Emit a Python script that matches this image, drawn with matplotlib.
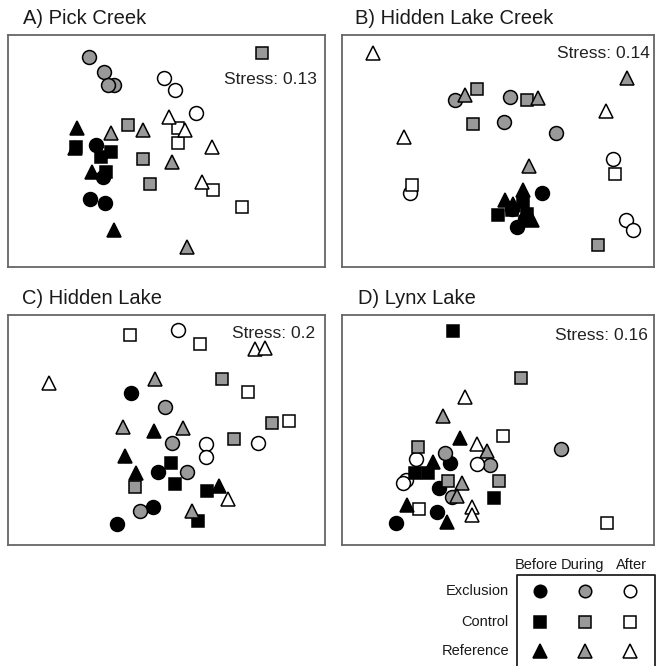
import matplotlib.pyplot as plt

plt.rcParams['font.family'] = ['Liberation Sans', 'DejaVu Sans']

W, H = 656, 666

treatments = ['Exclusion', 'Control', 'Reference']
periods = ['Before', 'During', 'After']
markers = {'Exclusion': 'o', 'Control': 's', 'Reference': '^'}
fills = {'Before': 'black', 'During': '#999999', 'After': 'white'}
msize = {'o': 10, 's': 9, '^': 10.5}

titles = ['A) Pick Creek', 'B) Hidden Lake Creek', 'C) Hidden Lake', 'D) Lynx Lake']
stress = [0.13, 0.14, 0.2, 0.16]

# NMDS scores (axis 1, axis 2 -- axis 2 runs downward here)
pick_creek = {
    ('Exclusion', 'Before'): [(290, 435), (310, 530), (270, 595), (315, 607)],
    ('Control', 'Before'): [(230, 442), (335, 455), (305, 470), (320, 515)],
    ('Reference', 'Before'): [(232, 385), (225, 445), (278, 515), (342, 690)],
    ('Exclusion', 'During'): [(268, 170), (312, 215), (343, 255), (325, 255)],
    ('Control', 'During'): [(785, 160), (385, 375), (430, 475), (450, 550)],
    ('Reference', 'During'): [(335, 400), (430, 390), (515, 485), (562, 740)],
    ('Exclusion', 'After'): [(492, 235), (525, 270), (588, 340)],
    ('Control', 'After'): [(535, 385), (535, 430), (638, 570), (727, 620)],
    ('Reference', 'After'): [(508, 350), (555, 390), (637, 440), (605, 545)],
}
hidden_lake_creek = {
    ('Exclusion', 'Before'): [(635, 578), (545, 625), (585, 655), (560, 680)],
    ('Control', 'Before'): [(505, 643), (545, 630), (580, 605), (590, 640)],
    ('Reference', 'Before'): [(525, 598), (580, 570), (550, 610), (605, 660)],
    ('Exclusion', 'During'): [(375, 300), (540, 290), (523, 365), (678, 398)],
    ('Control', 'During'): [(440, 268), (590, 300), (430, 372), (803, 735)],
    ('Reference', 'During'): [(405, 285), (625, 293), (890, 233), (598, 497)],
    ('Exclusion', 'After'): [(240, 578), (848, 475), (888, 660), (910, 690)],
    ('Control', 'After'): [(247, 555), (855, 520)],
    ('Reference', 'After'): [(130, 158), (222, 410), (828, 333)],
}
hidden_lake = {
    ('Exclusion', 'Before'): [(393, 340), (475, 575), (460, 680), (352, 732)],
    ('Control', 'Before'): [(512, 550), (525, 612), (620, 632), (593, 722)],
    ('Reference', 'Before'): [(462, 453), (375, 527), (410, 578), (658, 617)],
    ('Exclusion', 'During'): [(497, 380), (515, 490), (560, 575), (420, 692)],
    ('Control', 'During'): [(667, 297), (702, 477), (815, 430), (405, 620)],
    ('Reference', 'During'): [(465, 297), (370, 440), (548, 445), (577, 692)],
    ('Exclusion', 'After'): [(535, 150), (618, 492), (618, 530), (773, 488)],
    ('Control', 'After'): [(390, 165), (600, 192), (745, 337), (868, 422)],
    ('Reference', 'After'): [(148, 310), (765, 208), (795, 203), (685, 657)],
}
lynx_lake = {
    ('Exclusion', 'Before'): [(360, 550), (328, 625), (320, 695), (198, 728)],
    ('Control', 'Before'): [(370, 152), (255, 578), (295, 578), (493, 653)],
    ('Reference', 'Before'): [(390, 473), (308, 545), (230, 675), (350, 727)],
    ('Exclusion', 'During'): [(345, 520), (480, 555), (365, 650), (693, 508)],
    ('Control', 'During'): [(263, 500), (573, 293), (355, 603), (508, 603)],
    ('Reference', 'During'): [(340, 408), (472, 513), (395, 610), (380, 648)],
    ('Exclusion', 'After'): [(258, 538), (440, 553), (228, 600), (220, 610)],
    ('Control', 'After'): [(520, 468), (268, 688), (830, 728)],
    ('Reference', 'After'): [(405, 350), (440, 492), (425, 680), (425, 705)],
}
panels = [pick_creek, hidden_lake_creek, hidden_lake, lynx_lake]
limits = [(25, 975, 105, 800), (36, 972, 105, 800), (25, 975, 105, 795), (36, 972, 105, 795)]

# panel boxes in pixels: left, top, right, bottom
boxes = [(8, 35, 325, 267), (342, 35, 654, 267), (8, 315, 325, 545), (342, 315, 654, 545)]
title_pos = [(23, 18), (355, 18), (22, 298), (358, 298)]
stress_pos = [(317, 80), (650, 54), (315, 333), (648, 335)]

fig = plt.figure(figsize=(W / 100, H / 100), dpi=100)

for data, lim, box, tp, sp, title, st in zip(panels, limits, boxes, title_pos,
                                             stress_pos, titles, stress):
    l, t, r, b = box
    ax = fig.add_axes([l / W, 1 - b / H, (r - l) / W, (b - t) / H])
    for tr in treatments:
        for pe in periods:
            pts = data.get((tr, pe), [])
            if not pts:
                continue
            xs = [p[0] for p in pts]
            ys = [p[1] for p in pts]
            m = markers[tr]
            ax.plot(xs, ys, ls='none', marker=m, ms=msize[m], mfc=fills[pe],
                    mec='black', mew=1.1)
    ax.set_xlim(lim[0], lim[1])
    ax.set_ylim(lim[3], lim[2])
    ax.set_xticks([])
    ax.set_yticks([])
    for sp_ in ax.spines.values():
        sp_.set_color('#666666')
        sp_.set_linewidth(1.3)
    fig.text(tp[0] / W, 1 - tp[1] / H, title, fontsize=14.5, color='#1a1a1a',
             ha='left', va='center')
    fig.text(sp[0] / W, 1 - sp[1] / H, f'Stress: {st:g}', fontsize=12.5,
             color='#222222', ha='right', va='center')

# legend grid at bottom right
lg = fig.add_axes([0, 0, 1, 1])
lg.set_xlim(0, W)
lg.set_ylim(H, 0)
lg.axis('off')
lg.plot([517, 517, 655, 655], [670, 575, 575, 670], color='#222222', lw=1.3,
        clip_on=False)
col_x = [540, 585, 630]
row_y = [591, 622, 651]
head_x = [536, 582, 631]
for pe, cx, hx in zip(periods, col_x, head_x):
    lg.text(hx, 565, pe, fontsize=10.5, ha='center', va='center', color='#1a1a1a')
    for tr, ry in zip(treatments, row_y):
        m = markers[tr]
        lg.plot([cx], [ry], ls='none', marker=m, ms=msize[m] - 1, mfc=fills[pe],
                mec='black', mew=1.1)
for tr, ry in zip(treatments, row_y):
    lg.text(509, ry, tr, fontsize=10.5, ha='right', va='center', color='#1a1a1a')

fig.savefig('out.png', dpi=100)
